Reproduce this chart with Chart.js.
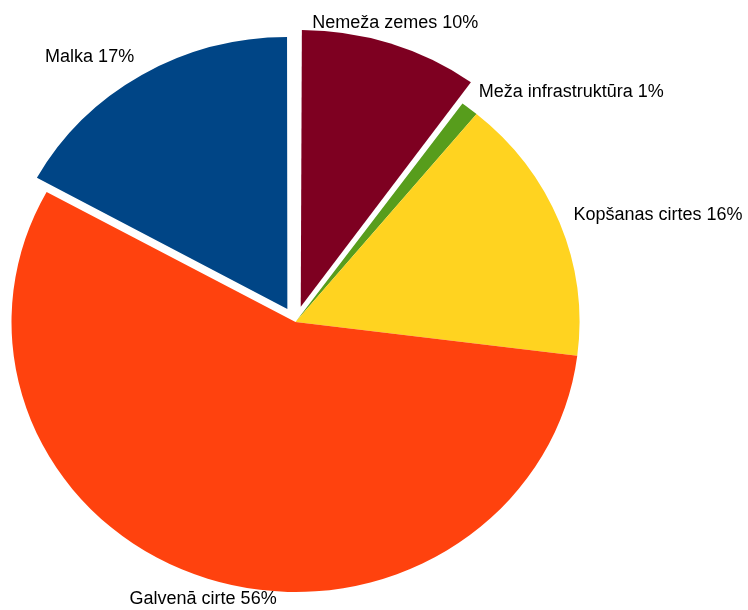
<!DOCTYPE html>
<html>
<head>
<meta charset="utf-8">
<script src="https://cdn.jsdelivr.net/npm/chart.js@4/dist/chart.umd.min.js"></script>
<style>
  html, body { margin: 0; padding: 0; background: #ffffff; }
  #wrap { width: 748px; height: 610px; position: relative; }
</style>
</head>
<body>
<div id="wrap"><canvas id="c" width="748" height="610"></canvas></div>
<script>
// Categories in clockwise order starting from 12 o'clock
const categories = ['Nemeža zemes', 'Meža infrastruktūra', 'Kopšanas cirtes', 'Galvenā cirte', 'Malka'];
const shares = [10, 1, 16, 56, 17];
const sliceColors = ['#7E0021', '#579D1C', '#FFD320', '#FF420E', '#004586'];
const explode = [68, 0, 0, 0, 64];

const Y_SCALE = 270 / 284; // pie is drawn slightly flattened

const ellipseAndLabels = {
  id: 'ellipseAndLabels',
  beforeDatasetsDraw(chart) {
    const ctx = chart.ctx;
    const a = chart.getDatasetMeta(0).data[0];
    ctx.save();
    ctx.translate(a.x, a.y);
    ctx.scale(1, Y_SCALE);
    ctx.translate(-a.x, -a.y);
  },
  afterDatasetsDraw(chart) {
    const ctx = chart.ctx;
    ctx.restore();
    const meta = chart.getDatasetMeta(0);
    const data = chart.data.datasets[0].data;
    const total = data.reduce((s, v) => s + v, 0);
    ctx.save();
    ctx.font = '18px "Liberation Sans", Arial, sans-serif';
    ctx.fillStyle = '#000000';
    ctx.textBaseline = 'middle';
    meta.data.forEach((arc, i) => {
      const mid = (arc.startAngle + arc.endAngle) / 2;
      const circ = arc.endAngle - arc.startAngle;
      const off = (arc.options.offset || 0) / 4;
      const fix = 1 - Math.sin(Math.min(Math.PI, circ));
      const eff = off * (1 + fix);
      const dist = arc.outerRadius + eff + 15;
      const ux = Math.cos(mid), uy = Math.sin(mid);
      const px = arc.x + ux * dist;
      const py = arc.y + uy * dist * Y_SCALE;
      let align = 'center';
      if (ux > 0.4) align = 'left';
      else if (ux < -0.4) align = 'right';
      ctx.textAlign = align;
      const pct = Math.round(data[i] / total * 100);
      ctx.fillText(chart.data.labels[i] + ' ' + pct + '%', px, py + uy * 7);
    });
    ctx.restore();
  }
};

new Chart(document.getElementById('c'), {
  type: 'pie',
  data: {
    labels: categories,
    datasets: [{
      data: shares,
      backgroundColor: sliceColors,
      borderWidth: 0,
      offset: explode,
      clip: false
    }]
  },
  options: {
    responsive: false,
    animation: false,
    events: [],
    radius: 284,
    layout: { padding: { left: 0, right: 157, top: 34, bottom: 0 } },
    plugins: {
      legend: { display: false },
      tooltip: { enabled: false }
    }
  },
  plugins: [ellipseAndLabels]
});
</script>
</body>
</html>
